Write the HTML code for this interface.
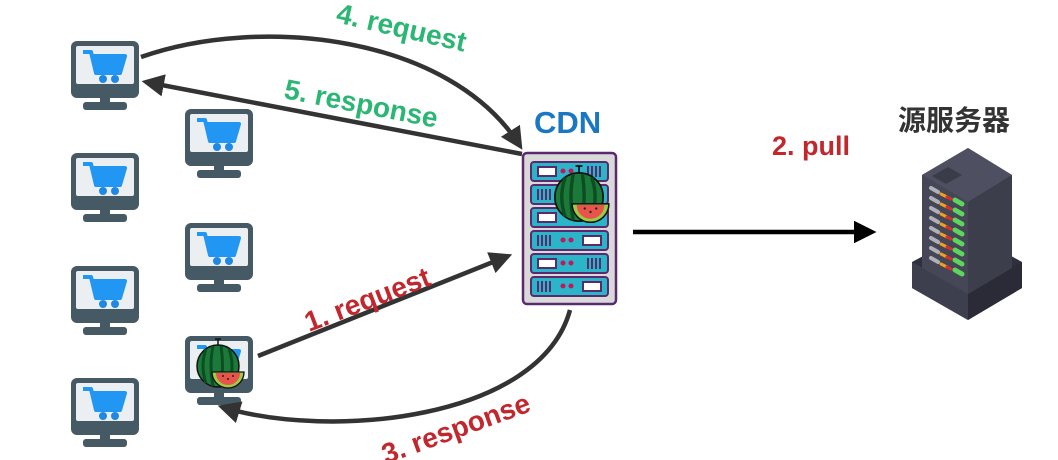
<!DOCTYPE html>
<html><head><meta charset="utf-8"><style>
html,body{margin:0;padding:0;background:#fff;}
svg{display:block;}
text{font-family:"Liberation Sans","Noto Sans CJK SC",sans-serif;font-weight:bold;}
</style></head><body>
<svg width="1058" height="460" viewBox="0 0 1058 460" xmlns="http://www.w3.org/2000/svg">
<defs>
<g id="mon">
  <rect x="1" y="1" width="68" height="57" rx="6" fill="#455a64"/>
  <rect x="6" y="6" width="58" height="38" rx="2" fill="#eceff1"/>
  <rect x="30" y="58" width="10" height="5" fill="#455a64"/>
  <rect x="13" y="62" width="44" height="8" rx="3" fill="#455a64"/>
</g>
<g id="cart">
  <path d="M13,12 L21,12 L26,33 L50,33 L55,16 L23,16" fill="none" stroke="#2196f3" stroke-width="4" stroke-linejoin="round"/>
  <path d="M24,17 L53,17 L49,32 L27,32 Z" fill="#2196f3"/>
  <circle cx="33" cy="39" r="4" fill="#1e88e5"/>
  <circle cx="45" cy="39" r="4" fill="#1e88e5"/>
</g>
<g id="melon">
  <circle cx="0" cy="0" r="21" fill="#1b7a3a" stroke="#111" stroke-width="1.5"/>
  <path d="M-12,-17 Q-18,0 -12,17 M-5,-20 Q-9,0 -5,20 M3,-20 Q6,0 3,20 M11,-17 Q17,0 11,17" stroke="#0d4d22" stroke-width="3" fill="none"/>
  <path d="M0,-21 L0,-27 M-3,-27 L3,-27" stroke="#111" stroke-width="1.5"/>
  <path d="M-6,6 L26,6 A16,16 0 0 1 -6,6 Z" fill="#9ccc45" stroke="#111" stroke-width="1.3"/>
  <path d="M-2,7 L22,7 A12,12 0 0 1 -2,7 Z" fill="#e8534a"/>
  <circle cx="5" cy="10" r="1" fill="#222"/><circle cx="10" cy="13" r="1" fill="#222"/><circle cx="15" cy="10" r="1" fill="#222"/>
</g>
<marker id="ah" viewBox="0 0 10 10" refX="8" refY="5" markerWidth="5" markerHeight="5" orient="auto-start-reverse"><path d="M0,0 L10,5 L0,10 Z" fill="#333"/></marker>
<marker id="ahb" viewBox="0 0 10 10" refX="8" refY="5" markerWidth="5" markerHeight="5" orient="auto"><path d="M0,0 L10,5 L0,10 Z" fill="#000"/></marker>
</defs>

<!-- monitors -->
<g transform="translate(70,40)"><use href="#mon"/><use href="#cart"/></g>
<g transform="translate(184,108)"><use href="#mon"/><use href="#cart"/></g>
<g transform="translate(70,152)"><use href="#mon"/><use href="#cart"/></g>
<g transform="translate(184,222)"><use href="#mon"/><use href="#cart"/></g>
<g transform="translate(70,265)"><use href="#mon"/><use href="#cart"/></g>
<g transform="translate(184,335)"><use href="#mon"/><use href="#cart"/><use href="#melon" transform="translate(34,31) scale(1.0)"/></g>
<g transform="translate(70,377)"><use href="#mon"/><use href="#cart"/></g>

<!-- arrows -->
<path d="M141,57 C260,15 450,35 520,146" fill="none" stroke="#333" stroke-width="4.5" marker-end="url(#ah)"/>
<path d="M522,154 L146,82" fill="none" stroke="#333" stroke-width="4.5" marker-end="url(#ah)"/>
<path d="M258,356 L508,256" fill="none" stroke="#333" stroke-width="4.5" marker-end="url(#ah)"/>
<path d="M570,310 C540,420 330,440 222,407" fill="none" stroke="#333" stroke-width="4.5" marker-end="url(#ah)"/>
<path d="M633,232 L872,232" fill="none" stroke="#000" stroke-width="4.5" marker-end="url(#ahb)"/>

<!-- labels -->
<text transform="translate(335,22) rotate(13)" font-size="28" fill="#2bb673">4. request</text>
<text transform="translate(283,98) rotate(11)" font-size="28" fill="#2bb673">5. response</text>
<text transform="translate(309,332) rotate(-21)" font-size="28" fill="#c1272d">1. request</text>
<text transform="translate(386,464) rotate(-20)" font-size="28" fill="#c1272d">3. response</text>
<text x="772" y="155" font-size="27" fill="#c1272d">2. pull</text>
<text x="534" y="133" font-size="31" fill="#1a78c2">CDN</text>
<text x="898" y="130" font-size="28" fill="#333">源服务器</text>

<!-- CDN server -->
<rect x="523" y="153" width="93" height="151" rx="4" fill="#d9d9d9" stroke="#5b2a6e" stroke-width="2.5"/>
<g stroke="#5b2a6e" stroke-width="2">
  <rect x="531" y="162" width="77" height="19" rx="3" fill="#2bb5c8"/>
  <rect x="531" y="185" width="77" height="19" rx="3" fill="#2bb5c8"/>
  <rect x="531" y="208" width="77" height="19" rx="3" fill="#2bb5c8"/>
  <rect x="531" y="231" width="77" height="19" rx="3" fill="#2bb5c8"/>
  <rect x="531" y="254" width="77" height="19" rx="3" fill="#2bb5c8"/>
  <rect x="531" y="277" width="77" height="19" rx="3" fill="#2bb5c8"/>
  <rect x="538" y="167" width="18" height="9" fill="#fff"/>
  <rect x="538" y="213" width="18" height="9" fill="#fff"/>
  <rect x="538" y="259" width="18" height="9" fill="#fff"/>
  <rect x="583" y="236" width="18" height="9" fill="#fff"/>
  <rect x="583" y="282" width="18" height="9" fill="#fff"/>
  <path d="M538,189 v11 M542,189 v11 M546,189 v11 M550,189 v11 M538,235 v11 M542,235 v11 M546,235 v11 M550,235 v11 M538,281 v11 M542,281 v11 M546,281 v11 M550,281 v11 M588,166 v11 M592,166 v11 M596,166 v11 M600,166 v11 M588,258 v11 M592,258 v11 M596,258 v11 M600,258 v11" fill="none"/>
</g>
<g fill="#c2185b"><circle cx="563" cy="171" r="2.5"/><circle cx="571" cy="171" r="2.5"/><circle cx="563" cy="240" r="2.5"/><circle cx="571" cy="240" r="2.5"/><circle cx="563" cy="263" r="2.5"/><circle cx="571" cy="263" r="2.5"/><circle cx="563" cy="286" r="2.5"/><circle cx="571" cy="286" r="2.5"/></g>
<use href="#melon" transform="translate(579,197) scale(1.15)"/>

<!-- origin server isometric -->
<polygon points="912,262 968,232 1022,262 1022,288 968,320 912,288" fill="#2f303d"/>
<polygon points="912,262 968,292 968,320 912,288" fill="#3d3e4e"/>
<polygon points="968,292 1022,262 1022,288 968,320" fill="#2a2b36"/>
<polygon points="922,175 968,148 1012,175 1012,268 968,294 922,268" fill="#3a3b4a"/>
<polygon points="922,175 968,148 1012,175 968,202" fill="#4e4f60"/>
<polygon points="968,202 1012,175 1012,268 968,294" fill="#3d3e4c"/>
<polygon points="922,175 968,202 968,294 922,268" fill="#454656"/>
<polygon points="932,176 948,167 962,175 946,184" fill="#3b3c4a"/>
<g stroke-linecap="round">
  <path d="M931,188 l7,4 M931,198 l7,4 M931,208 l7,4 M931,218 l7,4 M931,228 l7,4 M931,238 l7,4 M931,248 l7,4 M931,258 l7,4" stroke="#b0b0b8" stroke-width="4"/>
  <path d="M941,194 l6,3 M941,204 l6,3 M941,214 l6,3 M941,224 l6,3 M941,234 l6,3 M941,244 l6,3 M941,254 l6,3 M941,264 l6,3" stroke="#f0a020" stroke-width="3"/>
  <path d="M947,197 l4,2 M947,207 l4,2 M947,217 l4,2 M947,227 l4,2 M947,237 l4,2 M947,247 l4,2 M947,257 l4,2 M947,267 l4,2" stroke="#d32f2f" stroke-width="3"/>
  <path d="M955,200 l7,4 M955,210 l7,4 M955,220 l7,4 M955,230 l7,4 M955,240 l7,4 M955,250 l7,4 M955,260 l7,4 M955,270 l7,4" stroke="#5cd65c" stroke-width="5"/>
</g>
</svg>
</body></html>
